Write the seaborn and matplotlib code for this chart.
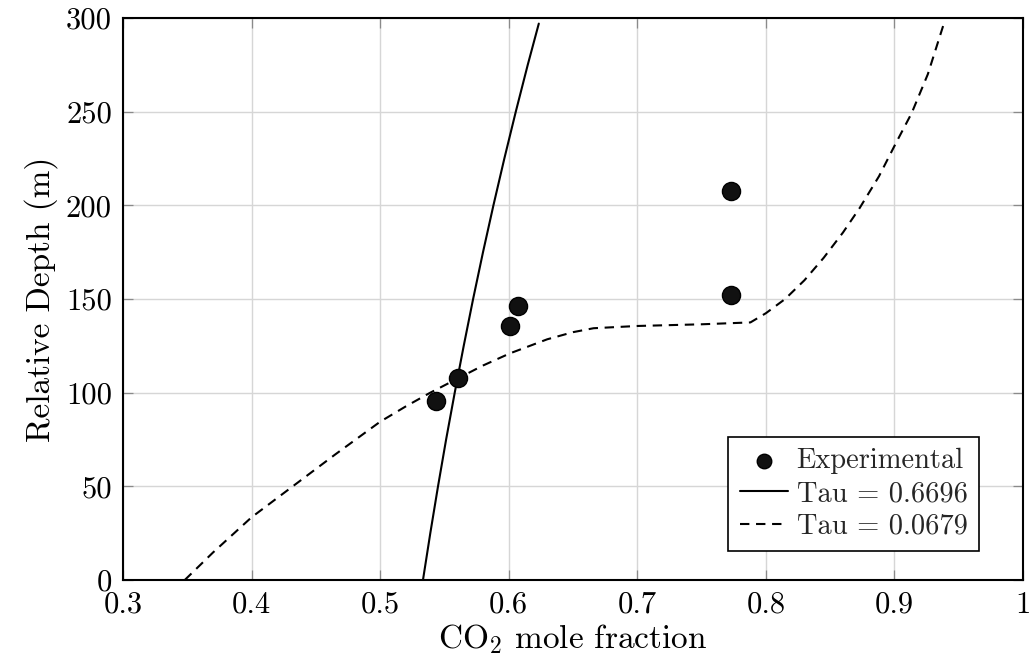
import numpy as np
import pandas as pd
import matplotlib
matplotlib.use("Agg")
import matplotlib.pyplot as plt
import seaborn as sns

# Experimental data
exp_x = [0.5435, 0.5606, 0.601, 0.607, 0.773, 0.773]
exp_y = [95.6, 107.8, 135.6, 146.3, 152.2, 207.7]

# Tau = 0.6696 (solid)
tau1_x = [0.5333, 0.5390, 0.5450, 0.5513, 0.5580, 0.5650, 0.5723, 0.5800,
          0.5881, 0.5966, 0.6055, 0.6148, 0.6234]
tau1_y = [0, 25, 50, 75, 100, 125, 150, 175, 200, 225, 250, 275, 297]

# Tau = 0.0679 (dashed)
tau2_x = [0.348, 0.370, 0.400, 0.432, 0.465, 0.500, 0.520, 0.539, 0.561, 0.580,
          0.601, 0.630, 0.650, 0.666, 0.700, 0.750, 0.788,
          0.800, 0.815, 0.830, 0.845, 0.860, 0.873, 0.888, 0.901, 0.9134, 0.926, 0.938]
tau2_y = [0, 14.7, 33.5, 50.0, 67.0, 84.5, 92.7, 100, 107.8, 114.5,
          121, 128.5, 132.3, 134.4, 135.6, 136.5, 137.5,
          142.4, 150, 160, 172, 185.5, 198.6, 215.5, 233, 249.2, 270, 296]

x_ticks = [0.3, 0.4, 0.5, 0.6, 0.7, 0.8, 0.9, 1.0]
x_ticklabels = ["0.3", "0.4", "0.5", "0.6", "0.7", "0.8", "0.9", "1"]
y_ticks = [0, 50, 100, 150, 200, 250, 300]

sns.set_theme(style="whitegrid")
plt.rcParams["font.family"] = ["cmr10", "DejaVu Serif"]
plt.rcParams["mathtext.fontset"] = "cm"
plt.rcParams["axes.formatter.use_mathtext"] = True
plt.rcParams["axes.unicode_minus"] = False

fig = plt.figure(figsize=(10.33, 6.66), dpi=100)
ax = fig.add_axes([0.1191, 0.1291, 0.8712, 0.8439])

df_exp = pd.DataFrame({"x": exp_x, "y": exp_y})
df1 = pd.DataFrame({"x": tau1_x, "y": tau1_y})
df2 = pd.DataFrame({"x": tau2_x, "y": tau2_y})

sns.scatterplot(data=df_exp, x="x", y="y", ax=ax, s=170, color="#111111",
                edgecolor="black", linewidth=1.0, label="Experimental", zorder=5)
sns.lineplot(data=df1, x="x", y="y", ax=ax, sort=False, estimator=None,
             color="black", linewidth=1.5, label="Tau = 0.6696", zorder=4)
sns.lineplot(data=df2, x="x", y="y", ax=ax, sort=False, estimator=None,
             color="black", linewidth=1.5, linestyle=(0, (4.5, 3.2)),
             label="Tau = 0.0679", zorder=4)

ax.set_xlim(0.3, 1.0)
ax.set_ylim(0, 300)
ax.set_xticks(x_ticks)
ax.set_xticklabels(x_ticklabels)
ax.set_yticks(y_ticks)
ax.set_yticklabels([str(v) for v in y_ticks], va="center_baseline")

ax.grid(True, color="#d6d6d6", linewidth=1.0)
ax.set_axisbelow(True)
for sp in ax.spines.values():
    sp.set_color("black")
    sp.set_linewidth(1.5)
    sp.set_visible(True)

ax.tick_params(axis="both", which="major", direction="in", length=7, width=0.9,
               color="#8a8a8a", labelsize=22, top=True, right=True, bottom=True, left=True,
               labelcolor="black")
ax.tick_params(axis="x", pad=8)
ax.tick_params(axis="y", pad=8)

ax.set_xlabel(r"CO$_2$ mole fraction", fontsize=24, color="black", labelpad=3)
ax.set_ylabel("Relative Depth (m)", fontsize=24, color="black", labelpad=6)

leg = ax.legend(loc="lower right", bbox_to_anchor=(0.951, 0.0516), borderaxespad=0,
                fontsize=20.5, frameon=True, fancybox=False, framealpha=1,
                edgecolor="black", handlelength=1.7, handletextpad=0.3,
                borderpad=0.4, labelspacing=0.22, markerscale=0.8)
leg.get_frame().set_linewidth(1.2)

fig.savefig("out.png", dpi=100)
